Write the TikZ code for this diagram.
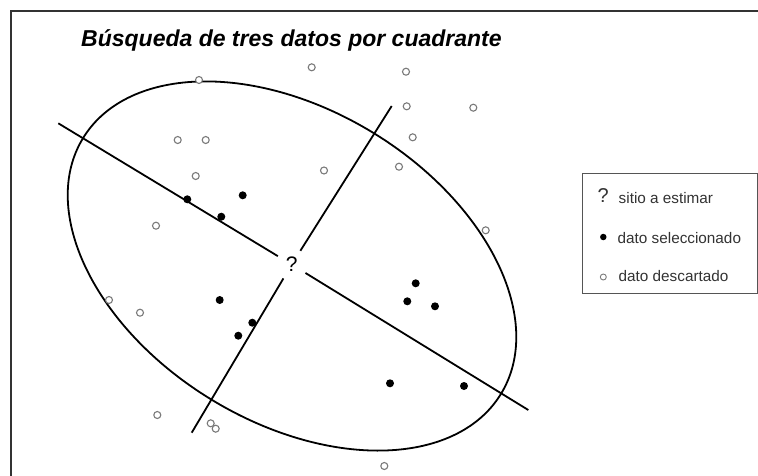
\documentclass[tikz,border=0pt]{standalone}
\usepackage{fontspec}
\setmainfont{Liberation Sans}
\usetikzlibrary{shapes.geometric}
\definecolor{framegray}{HTML}{333333}
\definecolor{boxgray}{HTML}{555555}
\definecolor{dotgray}{HTML}{7A7A7A}
\definecolor{txtgray}{HTML}{333333}
\tikzset{
  opendot/.style={circle,draw=dotgray,line width=1.1pt,fill=white,inner sep=0pt,minimum size=7pt},
  fulldot/.style={circle,fill=black,inner sep=0pt,minimum size=8pt},
  axisline/.style={draw=black,line width=1.8pt},
  legtext/.style={anchor=west,inner sep=0pt,text=txtgray,font=\fontsize{15.3}{18}\selectfont},
}
\begin{document}
\begin{tikzpicture}[x=1pt,y=-1pt]
\useasboundingbox (0,0) rectangle (758,475);
\fill[white] (0,0) rectangle (758,475);
% frame
\coordinate (fbl) at (10.5,476);
\coordinate (ftl) at (10.5,10.5);
\coordinate (ftr) at (759,10.5);
\draw[framegray,line width=2pt] (fbl) -- (ftl) -- (ftr);
% title
\node[anchor=base west,inner sep=0pt,font=\fontsize{23}{26}\selectfont\bfseries\itshape] (title) at (81,46.5) {Búsqueda de tres datos por cuadrante};
% ellipse
\coordinate (c) at (292,266);
\draw[black,line width=1.8pt,rotate around={-31.5:(c)}] (c) ellipse [x radius=245pt, y radius=156pt];
% centre
\node[circle,inner sep=0pt,minimum size=32pt,font=\fontsize{21}{22}\selectfont] (q) at (291.7,264.5) {?};
\coordinate (l1a) at (58.3,123.3);
\coordinate (l1b) at (528.3,410);
\coordinate (l2a) at (191.7,432.7);
\coordinate (l2b) at (391.7,106);
\draw[axisline] (l1a) -- (q);
\draw[axisline] (q) -- (l1b);
\draw[axisline] (l2a) -- (q);
\draw[axisline] (q) -- (l2b);
% discarded data
\foreach \px/\py [count=\i] in {311.7/67.3, 199/80, 177.7/140, 205.7/140, 195.7/176, 324/170.5, 406/71.7, 406.7/106.3, 473.3/107.7, 412.7/137.3, 399/166.7, 485.7/230.3, 156/225.7, 109/300, 140/312.7, 157.3/415, 210.7/423.3, 215.7/428.7, 384.3/466}
  \node[opendot] (o\i) at (\px,\py) {};
% selected data
\foreach \px/\py [count=\i] in {187.3/199.3, 242.7/195.3, 221.3/216.7, 219.7/300, 252.3/322.7, 238.3/335.7, 415.7/283.3, 407.3/301.3, 435/306.3, 390/383.3, 464/386}
  \node[fulldot] (s\i) at (\px,\py) {};
% legend
\node[draw=boxgray,line width=1.2pt,anchor=north west,minimum width=175pt,minimum height=120pt,inner sep=0pt] (legend) at (581.5,173) {};
\node[font=\fontsize{20}{22}\selectfont,text=txtgray,inner sep=0pt] (lq) at (603.3,195.5) {?};
\node[legtext] (lqt) at (618.5,198) {sitio a estimar};
\node[fulldot,minimum size=6.5pt] (ls) at (603.3,237) {};
\node[legtext] (lst) at (617.5,237.7) {dato seleccionado};
\node[opendot,minimum size=6pt,line width=0.9pt] (lo) at (603.3,277) {};
\node[legtext] (lot) at (618.5,276) {dato descartado};
\end{tikzpicture}
\end{document}
